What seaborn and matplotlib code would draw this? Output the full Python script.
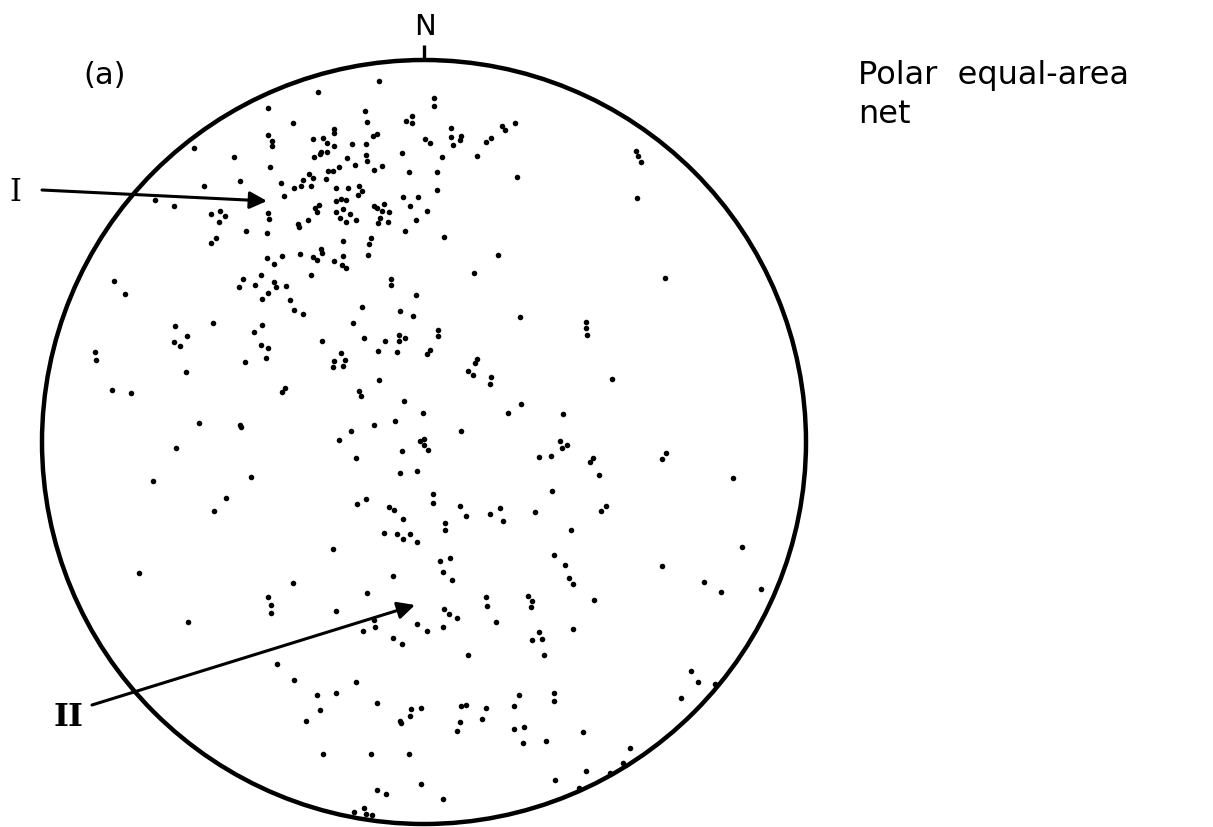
import matplotlib
matplotlib.use("Agg")
import matplotlib.pyplot as plt
from matplotlib.patches import Circle
import seaborn as sns
import pandas as pd

# Net radius in plotting units; poles are given as east/north offsets from the net centre
NET_R = 382

# Poles in the northern part of the net (concentration I and scatter around it)
north_east = [
    -156, -131, -156, -152, -152, -230, -190, -154, -184, -220, -143, -130, -140, -269, -250,
    -213, -204, -199, -205, -156, -155, -178, -157, -208, -213,
    -45, -106, 10, 10, -59, -12, -18, -12, -57, -90, -90, 27, 78, 81, 91, -47, -51, -111, -101,
    -97, -90, -72, -58, 1, 6, 27, 37, 36, 29, 62, 67, -103, -104, -97, -110, -22, -77, -58, -57,
    -69, 18, 53, -85, -96, -91, -50, -42, -15, 13, 93, -115, -121, -111, -98, -123, -113, -88,
    -76, -65, -62, -66, 13, -88, -83, -78, -21, -6, -105, -109, -107, -50, -47, -42, -40, -14,
    -88, -81, -74, -35, 3, -84, -78, -68, -44, -46, -36, -8, -116, -126, -125, -19, -81, -53,
    -55, 20,
    212, 214, 217, 213,
]
north_north = [
    334, 319, 307, 301, 296, 294, 285, 275, 261, 256, 259, 254, 246, 242, 236,
    228, 231, 226, 220, 229, 223, 211, 209, 204, 199,
    361, 350, 344, 336, 331, 326, 321, 319, 320, 313, 309, 314, 316, 312, 319, 308, 306, 303, 304,
    299, 296, 298, 298, 303, 299, 305, 306, 302, 297, 300, 304, 290, 288, 290, 285, 289, 284, 287,
    281, 277, 285, 286, 275, 271, 271, 272, 276, 270, 270, 265, 268, 262, 264, 263, 256, 256, 254,
    254, 256, 251, 247, 252, 241, 243, 242, 245, 245, 237, 234, 230, 236, 234, 231, 238, 236,
    230, 233, 228, 230, 231, 224, 220, 222, 224, 219, 220, 222, 222, 218, 215, 211, 201, 204,
    198, 205,
    291, 286, 280, 244,
]

# Poles in the middle band of the net
middle_east = [
    -157, -142, -150, -310, -299, -181, -185, -163, -169, -150, -148, -138, -156, -162, -134,
    -130, -249, -237, -250, -244, -211, -162, -170, -163, -156, -158, -179, -329, -328, -238,
    -312, -293, -139, -142, -225, -184, -183,
    -124, -103, -102, -111, -107, -90, -81, -82, -78, -56, -113, -33, -33, 50, 74, -8, -62, -121,
    -24, -11, 96, -71, 14, 14, -102, -60, -39, -25, -25, -19, -46, -27, 6, 3, -83, -90, -79, -91,
    -81, 53, 51, 44, 49, 67, 66, -45, -65, -63, -20, -1, 97, 84, -29, -50, -73, 37,
    241, 162, 162, 163, 188, 139,
]
middle_north = [
    184, 186, 178, 161, 148, 163, 155, 167, 157, 160, 155, 156, 149, 143, 142,
    132, 116, 106, 100, 96, 119, 117, 110, 97, 94, 84, 80, 90, 82, 70,
    52, 49, 54, 50, 19, 17, 15,
    188, 193, 189, 185, 182, 181, 186, 177, 174, 187, 167, 163, 157, 169, 187, 147, 135, 128,
    131, 126, 125, 119, 112, 106, 101, 104, 101, 107, 101, 104, 91, 90, 92, 88, 89, 81, 82, 75,
    76, 83, 79, 71, 67, 65, 58, 62, 51, 46, 41, 29, 38, 29, 21, 17, 11, 11,
    164, 120, 114, 107, 63, 28,
]

# Poles in the southern part of the net (concentration II and girdle)
south_east = [
    -248, -271, -173, -198, -210, -285, -131, -156, -153, -153, -236,
    -85, -68, -22, -4, 0, 0, 4, -24, -7, 115, 127, 128, 9, 9, -67, -58, -35, -30, -21, 36, 42,
    66, 76, 79, 111, 21, 21, -40, -27, -21, -14, -7, -91, 130, 16, 26, 19, 28, -31, -57, -88,
    -50, -49, 20, 25, 33, 62, 63, 104, 108, 107, -7, 19, 72, -61,
    136, 138, 143, 169, 166, 242, 238, 175, 309, 182, 177, 147, 318, 141, 145, 149, 238, 280,
    297, 337, 170, 149,
    -147, -130,
    3, -31, -22, 44, 108, 115, 118, 120, -68, -107, -88, -104, -118, -47, -13, -14, -3, -24,
    -23, 37, 42, 62, 36, 33, 58, 95, 90, 90, 100, 99, 122, 130, 130, -101, -53, -15, -3, -47,
    -38, 19, -70, -60, -58, -52, 131,
    159, 162, 155, 186, 199, 206, 257, 267, 274, 291,
]
south_north = [
    -6, -39, -35, -56, -69, -131, -141, -155, -163, -171, -180,
    2, -16, -9, 1, 3, -3, -8, -31, -29, -15, -14, -49, -52, -61, -62, -57, -65, -68, -77, -64, -74,
    -72, -66, -79, -70, -81, -88, -91, -92, -97, -92, -100, -107, -113, -119, -116, -130, -138,
    -134, -151, -169, -178, -185, -167, -172, -176, -155, -164, -154, -159, -165, -182, -185,
    -180, -189,
    1, -6, -3, -16, -20, -11, -17, -33, -36, -64, -69, -88, -105, -123, -136, -142, -124, -140,
    -150, -147, -158, -187,
    -222, -238,
    -189, -196, -202, -213, -198, -190, -197, -213, -240, -253, -251, -268, -279, -261, -267,
    -274, -266, -279, -281, -264, -263, -266, -280, -289, -277, -253, -264, -287, -285, -301,
    -299, -251, -259, -312, -312, -312, -342, -348, -352, -357, -370, -366, -372, -373, -338,
    -290, -329, -346, -331, -321, -306, -256, -229, -240, -242,
]

poles = pd.DataFrame({
    "east": north_east + middle_east + south_east,
    "north": north_north + middle_north + south_north,
})

sns.set_theme(style="white")
plt.rcParams["font.family"] = ["DejaVu Sans"]

fig = plt.figure(figsize=(12.13, 8.28), dpi=100)
ax = fig.add_axes([0, 0, 1, 1])
ax.set_xlim(-424, 789)
ax.set_ylim(-385, 443)
ax.set_aspect("equal")
ax.axis("off")

# Primitive circle of the net and north mark
ax.add_patch(Circle((0, 0), NET_R, fill=False, lw=3.2, color="black"))
ax.plot([0, 0], [NET_R, NET_R + 15], color="black", lw=2.4, solid_capstyle="butt")
ax.text(1, NET_R + 20, "N", ha="center", va="bottom", fontsize=21, color="black")

sns.scatterplot(data=poles, x="east", y="north", color="black", s=16,
                linewidth=0, ax=ax, legend=False)

# Labelled concentrations
arrow = dict(arrowstyle="-|>", color="black", lw=2.2, mutation_scale=26, shrinkA=0, shrinkB=0)
ax.annotate("", xy=(-157, 241), xytext=(-382, 252), arrowprops=arrow)
ax.annotate("", xy=(-9, -163), xytext=(-332, -263), arrowprops=arrow)
ax.text(-409, 251, "I", ha="center", va="center", fontsize=22,
        family="DejaVu Serif", color="black")
ax.text(-356, -274, "II", ha="center", va="center", fontsize=23, fontweight="bold",
        family="DejaVu Serif", color="black")

ax.text(-319, 368, "(a)", ha="center", va="center", fontsize=22, color="black")
ax.text(434, 383, "Polar  equal-area\nnet", ha="left", va="top", fontsize=23,
        linespacing=1.35, color="black")

fig.savefig("out.png", dpi=100)
